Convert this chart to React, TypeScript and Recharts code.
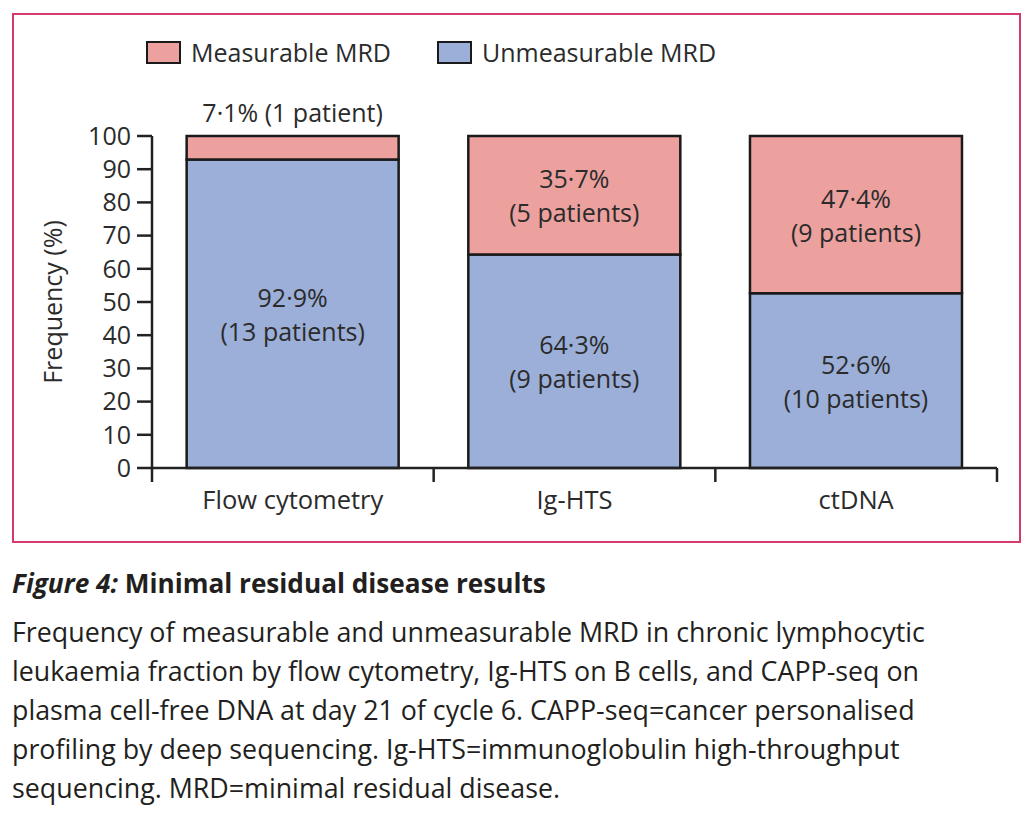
import { BarChart, Bar, XAxis, YAxis, Legend, LabelList } from 'recharts'

const categories = ['Flow cytometry', 'Ig-HTS', 'ctDNA']
const unmeasurable = [92.9, 64.3, 52.6]
const measurable = [7.1, 35.7, 47.4]
const unmeasurablePatients = [13, 9, 10]
const measurablePatients = [1, 5, 9]
const yTicks = [0, 10, 20, 30, 40, 50, 60, 70, 80, 90, 100]
const legendOrder = ['Measurable MRD', 'Unmeasurable MRD']

const captionTitle = 'Minimal residual disease results'
const captionLines = [
  'Frequency of measurable and unmeasurable MRD in chronic lymphocytic',
  'leukaemia fraction by flow cytometry, Ig-HTS on B cells, and CAPP-seq on',
  'plasma cell-free DNA at day 21 of cycle 6. CAPP-seq=cancer personalised',
  'profiling by deep sequencing. Ig-HTS=immunoglobulin high-throughput',
  'sequencing. MRD=minimal residual disease.',
]

const FONT = '"Open Sans", sans-serif'
const INK = '#2b2b2b'
const PINK = '#eca19f'
const BLUE = '#9bafd8'

const data = categories.map((name, i) => ({
  name,
  unmeasurable: unmeasurable[i],
  measurable: measurable[i],
}))

const fmtPct = (v: number) => `${v.toFixed(1).replace('.', '·')}%`
const fmtPatients = (n: number) => `(${n} patient${n === 1 ? '' : 's'})`

function makeSegmentLabel(counts: number[]) {
  return (props: any) => {
    const { x, y, width, height, index, value } = props
    const cx = x + width / 2
    const pct = fmtPct(Number(value))
    const pts = fmtPatients(counts[index])
    const style = { fontFamily: FONT, fontSize: 25, fill: INK }
    if (height < 50) {
      return (
        <text x={cx} y={y - 24} textAnchor="middle" dominantBaseline="central" style={style}>
          {`${pct} ${pts}`}
        </text>
      )
    }
    const cy = y + height / 2
    return (
      <g>
        <text x={cx} y={cy - 17} textAnchor="middle" dominantBaseline="central" style={style}>
          {pct}
        </text>
        <text x={cx} y={cy + 17} textAnchor="middle" dominantBaseline="central" style={style}>
          {pts}
        </text>
      </g>
    )
  }
}

function CategoryTick(props: any) {
  const { x, y, payload, index, visibleTicksCount, width } = props
  const band = typeof width === 'number' && visibleTicksCount ? width / visibleTicksCount : 845 / 3
  return (
    <g>
      {index === 0 && <line x1={x - band / 2} x2={x - band / 2} y1={y} y2={y + 14} stroke="#222" strokeWidth={2.5} />}
      <line x1={x + band / 2} x2={x + band / 2} y1={y} y2={y + 14} stroke="#222" strokeWidth={2.5} />
      <text x={x} y={y + 31} textAnchor="middle" dominantBaseline="central" style={{ fontFamily: FONT, fontSize: 25.5, fill: INK }}>
        {payload.value}
      </text>
    </g>
  )
}

function YLabel(props: any) {
  const { viewBox } = props
  const cx = viewBox.x
  const cy = viewBox.y + viewBox.height / 2
  return (
    <text
      x={cx}
      y={cy}
      transform={`rotate(-90, ${cx}, ${cy})`}
      textAnchor="middle"
      dominantBaseline="central"
      style={{ fontFamily: FONT, fontSize: 25, fill: INK }}
    >
      Frequency (%)
    </text>
  )
}

function renderLegend(props: any) {
  const items = [...(props.payload || [])].sort(
    (a: any, b: any) => legendOrder.indexOf(a.value) - legendOrder.indexOf(b.value)
  )
  return (
    <div style={{ display: 'flex', alignItems: 'center', fontFamily: FONT, fontSize: 25, color: INK }}>
      {items.map((it: any, i: number) => (
        <div key={i} style={{ display: 'flex', alignItems: 'center', marginRight: i === 0 ? 46 : 0 }}>
          <span
            style={{
              display: 'inline-block',
              width: 31,
              height: 19,
              background: it.color,
              border: '2.5px solid #1a1a1a',
              marginRight: 10,
            }}
          />
          <span>{it.value}</span>
        </div>
      ))}
    </div>
  )
}

export default function App() {
  return (
    <div style={{ position: 'relative', width: 1020, height: 808 }}>
      <div
        style={{
          position: 'absolute',
          left: 4,
          top: 5,
          width: 1005,
          height: 526,
          border: '2px solid #d63a6a',
        }}
      />
      <div style={{ position: 'absolute', left: -8, top: -8 }}>
        <BarChart
          width={1036}
          height={545}
          data={data}
          margin={{ top: 136, right: 39, bottom: 17, left: 52 }}
          barCategoryGap="12.3%"
        >
          <XAxis
            dataKey="name"
            height={60}
            tickSize={0}
            tickMargin={0}
            tickLine={false}
            axisLine={{ stroke: '#222', strokeWidth: 2.5 }}
            tick={<CategoryTick />}
            interval={0}
          />
          <YAxis
            width={100}
            domain={[0, 100]}
            ticks={yTicks}
            interval={0}
            tickSize={15}
            tickMargin={6}
            axisLine={{ stroke: '#222', strokeWidth: 2.5 }}
            tickLine={{ stroke: '#222', strokeWidth: 2.5 }}
            tick={{ fontFamily: FONT, fontSize: 25, fill: INK }}
            label={<YLabel />}
          />
          <Legend
            layout="horizontal"
            verticalAlign="middle"
            align="center"
            wrapperStyle={{ top: 35, left: 146, width: 700, height: 36 }}
            content={renderLegend}
          />
          <Bar
            dataKey="unmeasurable"
            name="Unmeasurable MRD"
            stackId="a"
            fill={BLUE}
            stroke="#1a1a1a"
            strokeWidth={2.5}
            isAnimationActive={false}
          >
            <LabelList dataKey="unmeasurable" content={makeSegmentLabel(unmeasurablePatients)} />
          </Bar>
          <Bar
            dataKey="measurable"
            name="Measurable MRD"
            stackId="a"
            fill={PINK}
            stroke="#1a1a1a"
            strokeWidth={2.5}
            isAnimationActive={false}
          >
            <LabelList dataKey="measurable" content={makeSegmentLabel(measurablePatients)} />
          </Bar>
        </BarChart>
      </div>
      <div
        style={{
          position: 'absolute',
          left: 4,
          top: 556,
          fontFamily: FONT,
          color: '#231f20',
          fontSize: 26.8,
          lineHeight: '39px',
          whiteSpace: 'nowrap',
        }}
      >
        <div style={{ fontWeight: 700, fontSize: 26.2, marginBottom: 9 }}>
          <span style={{ fontStyle: 'italic' }}>Figure 4:</span> {captionTitle}
        </div>
        {captionLines.map((l, i) => (
          <div key={i}>{l}</div>
        ))}
      </div>
    </div>
  )
}
